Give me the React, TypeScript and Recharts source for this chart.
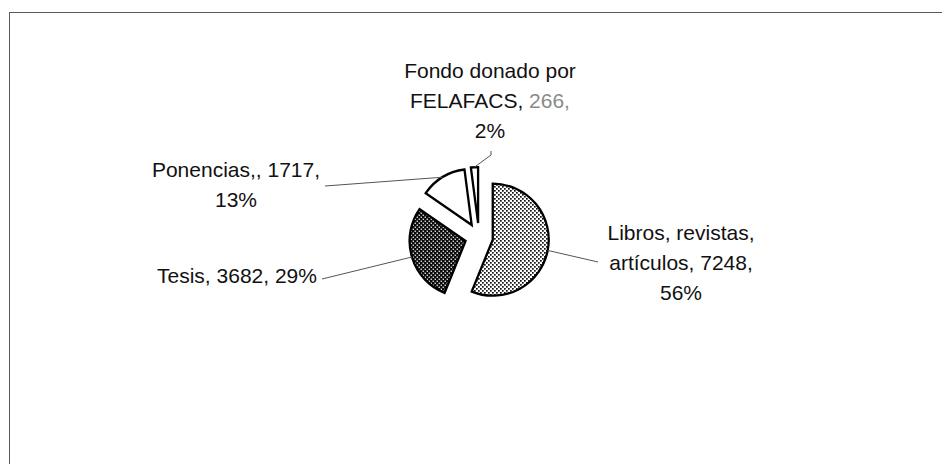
import React from 'react';
import { PieChart, Pie, Cell } from 'recharts';

// ---- data ----
const categories = ['Libros, revistas, artículos', 'Tesis', 'Ponencias,', 'Fondo donado por FELAFACS'];
const counts = [7248, 3682, 1717, 266];
const percents = [56, 29, 13, 2];

const data = categories.map((name, i) => ({ name, value: counts[i], pct: percents[i] }));

// ---- layout / style ----
const W = 942;
const H = 464;
const CX = 479;
const CY = 237;
const R = 56;
const EXPLODE = 14;
const FONT = "'Liberation Sans', Arial, Helvetica, sans-serif";
const FONT_SIZE = 21;
const LINE_H = 30;
const fills = ['url(#dotsLight)', 'url(#dotsDark)', '#ffffff', '#ffffff'];
const lineBreaks = [[2, 2, 1], [3], [2, 1], [3, 2, 1]];
const labelTextPos = [[202, 3], [-242, 46], [-243, -60], [11, -159]];
const leaderEnd = [[119, 25], [-157, 42], [-154, -51], [12, -82]];

const RAD = Math.PI / 180;
const total = counts.reduce((a, b) => a + b, 0);
let cum = 0;
const midAngles = counts.map((v) => {
  const m = 90 - (360 * (cum + v / 2)) / total;
  cum += v;
  return m;
});
const offsets = midAngles.map((a) => [EXPLODE * Math.cos(-a * RAD), EXPLODE * Math.sin(-a * RAD)]);

const renderLabel = (props: any) => {
  const { cx, cy, midAngle, outerRadius, index } = props;
  const sx = cx + (outerRadius + EXPLODE) * Math.cos(-midAngle * RAD);
  const sy = cy + (outerRadius + EXPLODE) * Math.sin(-midAngle * RAD);
  const ex = cx + leaderEnd[index][0];
  const ey = cy + leaderEnd[index][1];
  const pts = index === 3 ? `${sx},${sy} ${ex},${ey} ${ex},${ey - 4}` : `${sx},${sy} ${ex},${ey}`;
  const d = data[index];
  const valueToken = `${d.value},`;
  const words = `${d.name}, ${d.value}, ${d.pct}%`.split(' ');
  const lines: string[][] = [];
  let w = 0;
  for (const n of lineBreaks[index]) {
    lines.push(words.slice(w, w + n));
    w += n;
  }
  const tx = cx + labelTextPos[index][0];
  const ty = cy + labelTextPos[index][1];
  return (
    <g key={`lbl-${index}`}>
      <polyline points={pts} fill="none" stroke="#555" strokeWidth={1} />
      <text textAnchor="middle" fontFamily={FONT} fontSize={FONT_SIZE} fill="#111">
        {lines.map((ln, k) => (
          <tspan key={k} x={tx} y={ty + k * LINE_H}>
            {ln.map((word, j) => (
              <tspan key={j} fill={index === 3 && word === valueToken ? '#8a8a8a' : '#111'}>
                {(j > 0 ? ' ' : '') + word}
              </tspan>
            ))}
          </tspan>
        ))}
      </text>
    </g>
  );
};

export default function App() {
  return (
    <div style={{ position: 'absolute', left: 0, top: 0, width: W, height: H, background: '#fff' }}>
      <svg width={0} height={0} style={{ position: 'absolute' }}>
        <defs>
          <pattern id="dotsLight" width={4} height={4} patternUnits="userSpaceOnUse">
            <rect width={4} height={4} fill="#fff" />
            <rect x={0} y={0} width={1.7} height={1.7} fill="#111" />
            <rect x={2} y={2} width={1.7} height={1.7} fill="#111" />
          </pattern>
          <pattern id="dotsDark" width={4} height={4} patternUnits="userSpaceOnUse">
            <rect width={4} height={4} fill="#0a0a0a" />
            <rect x={0.6} y={0.6} width={1.3} height={1.3} fill="#fff" />
            <rect x={2.6} y={2.6} width={1.3} height={1.3} fill="#fff" />
          </pattern>
        </defs>
      </svg>
      <div
        style={{
          position: 'absolute',
          left: 9,
          top: 12,
          width: W - 9,
          height: H - 12,
          borderLeft: '1.5px solid #5a5a5a',
          borderTop: '1.5px solid #5a5a5a',
          boxSizing: 'border-box',
        }}
      />
      <div style={{ position: 'absolute', left: 0, top: 0 }}>
        <PieChart width={W} height={H} margin={{ top: 0, right: 0, bottom: 0, left: 0 }}>
          {data.map((_, k) => (
            <Pie
              key={`pie-${k}`}
              data={data}
              dataKey="value"
              nameKey="name"
              cx={CX + offsets[k][0]}
              cy={CY + offsets[k][1]}
              outerRadius={R}
              innerRadius={0}
              startAngle={90}
              endAngle={-270}
              paddingAngle={0}
              isAnimationActive={false}
              label={false}
              labelLine={false}
            >
              {data.map((__, i) => (
                <Cell
                  key={`c-${k}-${i}`}
                  fill={i === k ? fills[i] : 'none'}
                  stroke={i === k ? '#000' : 'none'}
                  strokeWidth={i === k ? 2.3 : 0}
                />
              ))}
            </Pie>
          ))}
          <Pie
            key="labels"
            data={data}
            dataKey="value"
            nameKey="name"
            cx={CX}
            cy={CY}
            outerRadius={R}
            innerRadius={0}
            startAngle={90}
            endAngle={-270}
            paddingAngle={0}
            isAnimationActive={false}
            label={renderLabel}
            labelLine={false}
          >
            {data.map((__, i) => (
              <Cell key={`l-${i}`} fill="none" stroke="none" />
            ))}
          </Pie>
        </PieChart>
      </div>
    </div>
  );
}
